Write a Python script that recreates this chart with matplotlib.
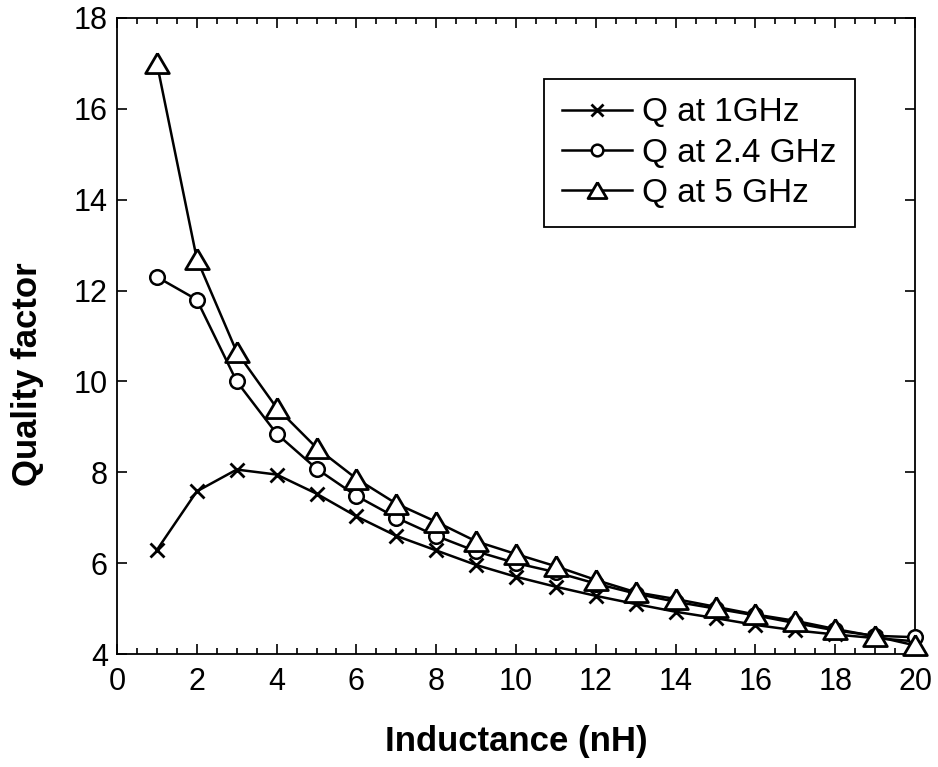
import matplotlib.pyplot as plt
import numpy as np
from matplotlib.ticker import MultipleLocator

plt.rcParams['font.family'] = ['Liberation Sans', 'DejaVu Sans']

inductance = np.arange(1, 21)

q_1ghz = [6.29, 7.58, 8.06, 7.95, 7.53, 7.03, 6.6, 6.28, 5.96, 5.7,
          5.48, 5.28, 5.1, 4.93, 4.79, 4.64, 4.52, 4.43, 4.35, 4.28]
q_24ghz = [12.3, 11.8, 10.0, 8.85, 8.08, 7.48, 7.0, 6.6, 6.26, 6.0,
           5.8, 5.55, 5.33, 5.15, 5.0, 4.85, 4.68, 4.52, 4.4, 4.37]
q_5ghz = [17.0, 12.7, 10.65, 9.42, 8.54, 7.86, 7.31, 6.91, 6.48, 6.2,
          5.93, 5.63, 5.36, 5.21, 5.04, 4.87, 4.73, 4.55, 4.39, 4.19]

labels = ['Q at 1GHz', 'Q at 2.4 GHz', 'Q at 5 GHz']

# matlab-style triangle, a bit wider than tall
tri = [(0, 0.85), (-1, -0.85), (1, -0.85), (0, 0.85)]

fig = plt.figure(figsize=(9.38, 7.67), dpi=100)
ax = fig.add_axes([117 / 938, 1 - 654 / 767, 798 / 938, 636 / 767])

ax.plot(inductance, q_1ghz, '-x', color='black', lw=1.8, ms=10,
        mew=2, label=labels[0], clip_on=False, zorder=3)
ax.plot(inductance, q_24ghz, '-o', color='black', lw=1.8, ms=10.5,
        mew=1.8, mfc='white', label=labels[1], clip_on=False, zorder=4)
ax.plot(inductance, q_5ghz, '-', marker=tri, color='black', lw=1.8, ms=17,
        mew=2, mfc='white', label=labels[2], clip_on=False, zorder=5)

ax.set_xlim(0, 20)
ax.set_ylim(4, 18)
ax.xaxis.set_major_locator(MultipleLocator(2))
ax.xaxis.set_minor_locator(MultipleLocator(0.5))
ax.yaxis.set_major_locator(MultipleLocator(2))

ax.tick_params(which='both', direction='in', top=True, right=True,
               labelsize=22, width=1.2)
ax.tick_params(which='major', length=7)
ax.tick_params(which='minor', length=4)
ax.tick_params(axis='x', pad=9.5)
ax.tick_params(axis='y', pad=6.5)
for s in ax.spines.values():
    s.set_linewidth(1.3)

ax.set_xlabel('Inductance (nH)', fontsize=25, fontweight='bold')
ax.set_ylabel('Quality factor', fontsize=25, fontweight='bold')
ax.xaxis.set_label_coords(0.5, -0.1116)
ax.yaxis.set_label_coords(-0.0915, 0.44)

leg = ax.legend(loc='upper left', bbox_to_anchor=(0.535, 0.904),
                borderaxespad=0, fontsize=24, handlelength=2.1,
                handletextpad=0.3, markerscale=0.8, fancybox=False,
                framealpha=1, edgecolor='black', borderpad=0.55,
                labelspacing=0.28)
leg.get_frame().set_linewidth(1.3)

plt.savefig('out.png', dpi=100)
